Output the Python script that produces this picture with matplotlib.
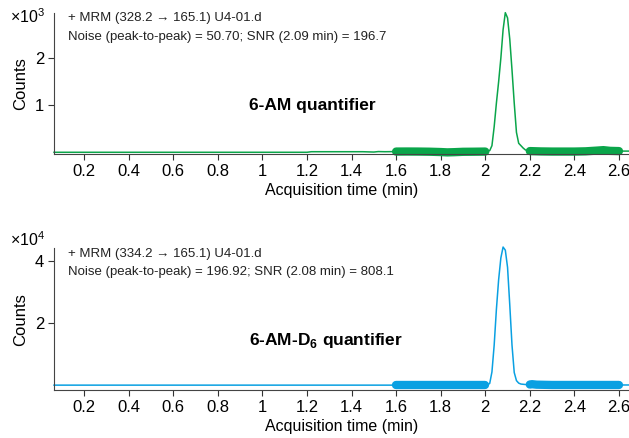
import matplotlib.pyplot as plt
import numpy as np

plt.rcParams['font.family'] = ['Liberation Sans', 'DejaVu Sans']
plt.rcParams['mathtext.fontset'] = 'custom'
plt.rcParams['mathtext.rm'] = 'Liberation Sans'
plt.rcParams['mathtext.bf'] = 'Liberation Sans:bold'

# top chromatogram: 6-AM quantifier (counts)
t_top = [0.065, 1.20, 1.22, 1.45, 1.50, 1.52, 1.55, 1.60, 1.65, 1.70, 1.75, 1.80, 1.83,
         1.86, 1.90, 1.95, 2.00, 2.02, 2.03, 2.04, 2.05, 2.06, 2.07, 2.08, 2.09, 2.10,
         2.11, 2.12, 2.13, 2.14, 2.15, 2.16, 2.17, 2.18, 2.20, 2.25, 2.30, 2.35, 2.40,
         2.45, 2.50, 2.53, 2.56, 2.60, 2.645]
y_top = [10, 10, 22, 22, 15, 25, 22, 25, 26, 25, 22, 15, 8,
         12, 20, 22, 25, 45, 150, 550, 1050, 1500, 2000, 2600, 2960, 2850,
         2400, 1750, 1050, 430, 200, 150, 100, 60, 35, 28, 25, 25, 25,
         30, 45, 55, 40, 35, 35]

# bottom chromatogram: 6-AM-D6 quantifier (counts)
t_bot = [0.065, 1.00, 1.60, 1.70, 1.80, 1.90, 2.00, 2.01, 2.02, 2.03, 2.04, 2.05, 2.06,
         2.07, 2.08, 2.09, 2.10, 2.11, 2.12, 2.13, 2.14, 2.15, 2.16, 2.18, 2.20, 2.21,
         2.23, 2.30, 2.40, 2.50, 2.60, 2.645]
y_bot = [150, 150, 150, 150, 150, 150, 150, 250, 700, 4400, 13000, 24500, 34000,
         41000, 44500, 43500, 38000, 25900, 13000, 4200, 1600, 800, 500, 350, 350, 450,
         300, 200, 200, 200, 200, 200]

noise_windows = [(1.6, 2.0), (2.2, 2.6)]
xticks = [0.2, 0.4, 0.6, 0.8, 1.0, 1.2, 1.4, 1.6, 1.8, 2.0, 2.2, 2.4, 2.6]
xtick_labels = ['0.2', '0.4', '0.6', '0.8', '1', '1.2', '1.4', '1.6', '1.8', '2', '2.2', '2.4', '2.6']

green = '#0aa54a'
blue = '#0aa0e2'

fig = plt.figure(figsize=(6.29, 4.38), dpi=100)
ax1 = fig.add_axes([0.0859, 0.648, 0.9141, 0.322])
ax2 = fig.add_axes([0.0859, 0.1096, 0.9141, 0.3234])


def draw(ax, t, y, color, scale, yticks, ytl, ylim, info):
    t = np.array(t)
    y = np.array(y) / scale
    ax.plot(t, y, color=color, lw=1.1, clip_on=False)
    for a, b in noise_windows:
        m = (t >= a) & (t <= b)
        ax.plot(t[m], y[m], color=color, lw=6, solid_capstyle='round', clip_on=False)
    ax.set_xlim(0.065, 2.645)
    ax.set_ylim(*ylim)
    ax.set_xticks(xticks)
    ax.set_xticklabels(xtick_labels, fontsize=12)
    ax.set_yticks(yticks)
    ax.set_yticklabels(ytl, fontsize=12)
    ax.tick_params(direction='out', length=4, width=0.8, color='#333333', pad=3)
    for s in ['top', 'right']:
        ax.spines[s].set_visible(False)
    for s in ['left', 'bottom']:
        ax.spines[s].set_color('#444444')
        ax.spines[s].set_linewidth(0.8)
    ax.set_xlabel('Acquisition time (min)', fontsize=11.5, labelpad=3)
    ax.set_ylabel('Counts', fontsize=12, labelpad=5)
    ax.text(0.024, 1.005, info, transform=ax.transAxes, fontsize=9.5, va='top',
            linespacing=1.7, color='#222222')
    return ax


draw(ax1, t_top, y_top, green, 1e3, [1, 2], ['1', '2'], (-0.03, 2.95),
     '+ MRM (328.2 \u2192 165.1) U4-01.d\nNoise (peak-to-peak) = 50.70; SNR (2.09 min) = 196.7')
fig.text(0.016, 0.962, r'$\times$10$^{3}$', fontsize=11.5, ha='left', va='center')
ax1.text(1.223, 1.0, '6-AM quantifier', fontsize=12.5, fontweight='bold', ha='center', va='center')

draw(ax2, t_bot, y_bot, blue, 1e4, [2, 4], ['2', '4'], (-0.141, 4.408),
     '+ MRM (334.2 \u2192 165.1) U4-01.d\nNoise (peak-to-peak) = 196.92; SNR (2.08 min) = 808.1')
fig.text(0.016, 0.452, r'$\times$10$^{4}$', fontsize=11.5, ha='left', va='center')
ax2.text(1.286, 1.46, r'6-AM-D$_{\mathbf{6}}$ quantifier', fontsize=12.5, fontweight='bold',
         ha='center', va='center')

fig.savefig('out.png', dpi=100)
